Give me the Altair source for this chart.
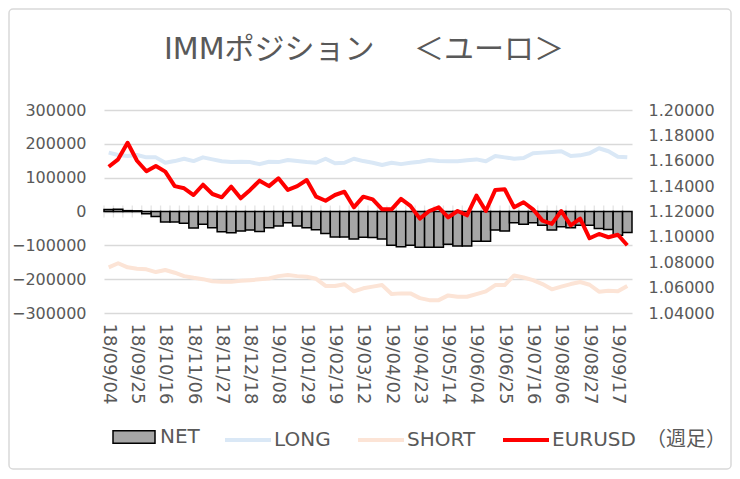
import pandas as pd
import altair as alt

# weekly IMM report dates (Tuesdays)
weeks = pd.date_range("2018-09-04", periods=56, freq="7D").strftime("%y/%m/%d").tolist()

net = [6000, 7000, 2500, 2000, -7000, -15000, -31000, -31000, -35000, -49000,
       -38000, -48000, -60000, -63000, -58000, -55000, -59000, -48000, -43000, -33000,
       -43000, -48000, -54000, -65000, -75000, -75000, -81000, -76000, -77000, -81000,
       -100000, -104000, -100000, -106000, -106000, -106000, -97000, -102000, -102000, -88000,
       -88000, -55000, -58000, -33000, -38000, -33000, -41000, -55000, -45000, -48000,
       -41000, -41000, -50000, -53000, -70000, -62000]

long_pos = [174000, 167000, 164000, 167000, 160000, 160000, 144000, 149000, 156000, 149000,
            160000, 154000, 148500, 146000, 147000, 146000, 140000, 147000, 146000, 152000,
            149000, 146000, 144000, 156000, 142500, 144000, 156000, 149000, 144000, 137500,
            144000, 140000, 144000, 147000, 152000, 149000, 148500, 148500, 151500, 154000,
            148500, 164000, 160000, 156000, 158000, 172000, 174000, 176000, 178000, 164000,
            166000, 172000, 187000, 178000, 162000, 160000]

short_pos = [-165000, -153000, -165000, -169000, -171000, -179000, -173000, -181000, -191000, -196000,
             -200000, -206000, -208000, -208000, -205000, -203000, -200500, -198000, -191000, -188000,
             -191000, -193000, -199000, -220000, -220000, -215000, -236000, -227000, -222000, -217500,
             -244000, -242000, -242000, -256000, -262000, -262000, -248000, -252000, -252000, -244000,
             -236000, -217500, -217500, -189000, -195000, -203000, -214500, -230000, -222000, -214500,
             -208500, -216500, -237000, -234000, -236000, -220000]

eurusd = [1.1553, 1.1611, 1.1742, 1.1600, 1.1517, 1.1559, 1.1514, 1.1400, 1.1383, 1.1330,
          1.1411, 1.1338, 1.1312, 1.1396, 1.1304, 1.1370, 1.1443, 1.1400, 1.1462, 1.1370,
          1.1400, 1.1448, 1.1317, 1.1285, 1.1330, 1.1356, 1.1233, 1.1317, 1.1296, 1.1217,
          1.1217, 1.1299, 1.1244, 1.1144, 1.1204, 1.1233, 1.1154, 1.1204, 1.1170, 1.1325,
          1.1204, 1.1370, 1.1375, 1.1233, 1.1273, 1.1217, 1.1128, 1.1102, 1.1204, 1.1091,
          1.1144, 1.0989, 1.1023, 1.0997, 1.1017, 1.0934]

FONT = "DejaVu Sans, Noto Sans CJK JP"
TXT = "#595959"
GRID = "#d9d9d9"

df = pd.DataFrame({"week": weeks, "NET": net, "LONG": long_pos,
                   "SHORT": short_pos, "EURUSD": eurusd})

# shared x: one band per week, bars touching
x_scale = alt.Scale(paddingInner=0, paddingOuter=0)
x_axis = alt.Axis(values=weeks[::3], labelAngle=90, labelPadding=10, labelFontSize=18,
                  labelColor=TXT, labelFont=FONT, domain=False, ticks=False, grid=False, title=None)
x_enc = alt.X("week:O", sort=None, scale=x_scale, axis=x_axis)

y_scale = alt.Scale(domain=[-300000, 300000])
y_axis = alt.Axis(values=list(range(-300000, 300001, 100000)), format="d", grid=True,
                  gridColor=GRID, gridWidth=1.3, domain=False, ticks=False, labelPadding=18,
                  labelFontSize=16, labelColor=TXT, labelFont=FONT, title=None)

fx_axis = alt.Axis(orient="right", values=[round(1.04 + 0.02 * i, 2) for i in range(9)],
                   format=".5f", grid=False, domain=False, ticks=False, labelPadding=16,
                   labelFontSize=16, labelColor=TXT, labelFont=FONT, title=None)

color_enc = alt.Color(
    "series:N",
    scale=alt.Scale(domain=["LONG", "SHORT", "EURUSD"], range=["#dae8f6", "#fce4d6", "#ff0000"]),
    legend=alt.Legend(orient="none", legendX=119, legendY=305, direction="horizontal",
                      symbolType="stroke", symbolSize=2116, symbolStrokeWidth=4,
                      labelFontSize=20, labelFont=FONT, labelColor=TXT, labelOffset=1,
                      columnPadding=19, labelLimit=300, title=None,
                      labelExpr="datum.label == 'EURUSD' ? 'EURUSD\u2002（週足）' : datum.label"),
)

base = alt.Chart(df)

# cross ticks on the zero axis, at week boundaries
zero_ticks = base.mark_tick(orient="vertical", color=GRID, size=12, thickness=1.3).encode(
    x=alt.X("week:O", sort=None, scale=x_scale, axis=x_axis, bandPosition=0),
    y=alt.YDatum(0, scale=y_scale, axis=y_axis),
)

bars = base.transform_calculate(kind="'NET'").mark_bar(stroke="black", strokeWidth=1.5).encode(
    x=x_enc,
    y=alt.Y("NET:Q", scale=y_scale, axis=y_axis),
    fill=alt.Fill("kind:N", scale=alt.Scale(domain=["NET"], range=["#a6a6a6"]),
                  legend=alt.Legend(orient="none", legendX=8, legendY=305,
                                    symbolType="M-1,-0.3H1V0.3H-1Z", symbolSize=1764,
                                    symbolStrokeColor="black", symbolStrokeWidth=1.5,
                                    labelFontSize=20, labelFont=FONT, labelColor=TXT,
                                    labelOffset=4, title=None)),
)

lines = base.transform_fold(["LONG", "SHORT"], as_=["series", "value"]).mark_line(
    strokeWidth=4, strokeJoin="round").encode(
    x=x_enc,
    y=alt.Y("value:Q", scale=y_scale, axis=y_axis),
    color=color_enc,
)

fx = base.transform_calculate(series="'EURUSD'").mark_line(strokeWidth=4, strokeJoin="round").encode(
    x=x_enc,
    y=alt.Y("EURUSD:Q", scale=alt.Scale(domain=[1.04, 1.20]), axis=fx_axis),
    color=color_enc,
)

# thin rounded border around the whole chart
frame = alt.Chart(pd.DataFrame({"f": [0]})).mark_rect(
    fillOpacity=0, stroke=GRID, strokeWidth=1.5, cornerRadius=4).encode(
    x=alt.value(-95), x2=alt.value(627), y=alt.value(-101), y2=alt.value(359))

left = alt.layer(zero_ticks, bars, lines)

chart = alt.layer(frame, left, fx).resolve_scale(y="independent").properties(
    width=528,
    height=203,
    title=alt.TitleParams("IMMポジション　 ＜ユーロ＞", font=FONT, fontSize=30, fontWeight="normal",
                          color=TXT, anchor="middle", offset=-57, dx=-4),
    autosize=alt.AutoSizeParams(type="none"),
    padding={"left": 96, "top": 102, "right": 100, "bottom": 158},
).configure_view(stroke=None)

chart.save("out.html", embed_options={"renderer": "svg", "actions": False})
